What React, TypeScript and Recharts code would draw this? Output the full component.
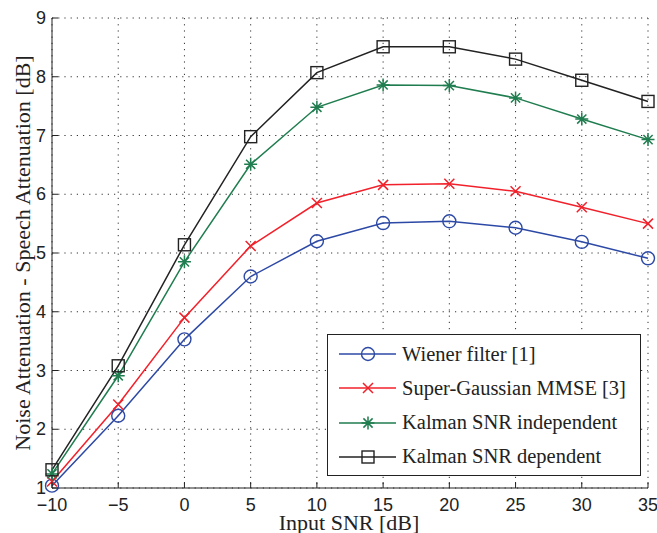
import { CartesianGrid, Line, LineChart, XAxis, YAxis } from "recharts";

const snr = [-10, -5, 0, 5, 10, 15, 20, 25, 30, 35];
const wiener = [1.04, 2.23, 3.53, 4.6, 5.2, 5.51, 5.54, 5.43, 5.19, 4.91];
const superGauss = [1.11, 2.42, 3.9, 5.12, 5.85, 6.16, 6.18, 6.05, 5.78, 5.5];
const kalmanIndep = [1.24, 2.91, 4.85, 6.51, 7.48, 7.86, 7.85, 7.64, 7.28, 6.93];
const kalmanDep = [1.31, 3.08, 5.14, 6.98, 8.07, 8.51, 8.51, 8.3, 7.94, 7.58];
const xTicks = [-10, -5, 0, 5, 10, 15, 20, 25, 30, 35];
const yTicks = [1, 2, 3, 4, 5, 6, 7, 8, 9];

const BLUE = "#2d49a6";
const RED = "#f2202a";
const GREEN = "#1f7d4f";
const BLACK = "#222222";

const data = snr.map((x, i) => ({
  x,
  wiener: wiener[i],
  superGauss: superGauss[i],
  kalmanIndep: kalmanIndep[i],
  kalmanDep: kalmanDep[i],
}));

type Shape = "circle" | "cross" | "star" | "square";

function marker(shape: Shape, cx: number, cy: number, color: string, key?: string) {
  if (shape === "circle")
    return <circle key={key} cx={cx} cy={cy} r={6.5} fill="none" stroke={color} strokeWidth={1.4} />;
  if (shape === "square")
    return <rect key={key} x={cx - 6} y={cy - 6} width={12} height={12} fill="none" stroke={color} strokeWidth={1.4} />;
  if (shape === "cross")
    return (
      <path key={key} d={`M${cx - 5},${cy - 5}L${cx + 5},${cy + 5}M${cx - 5},${cy + 5}L${cx + 5},${cy - 5}`} stroke={color} strokeWidth={1.5} fill="none" />
    );
  const r = 6.5;
  const d = r * 0.707;
  return (
    <path
      key={key}
      d={`M${cx - r},${cy}L${cx + r},${cy}M${cx},${cy - r}L${cx},${cy + r}M${cx - d},${cy - d}L${cx + d},${cy + d}M${cx - d},${cy + d}L${cx + d},${cy - d}`}
      stroke={color}
      strokeWidth={1.5}
      fill="none"
    />
  );
}

const dotOf = (shape: Shape, color: string) => (props: any) => {
  const { cx, cy, index } = props;
  return marker(shape, cx, cy, color, `${shape}-${index}`);
};

const fmt = (v: number) => (v < 0 ? `\u2212${Math.abs(v)}` : `${v}`);

const BottomTick = (props: any) => {
  const { x, y, payload } = props;
  return (
    <g>
      <line x1={x} y1={y} x2={x} y2={y - 6} stroke="#222" />
      <text x={x} y={y + 23} textAnchor="middle" fontFamily="Liberation Sans" fontSize={18} fill="#222">
        {fmt(payload.value)}
      </text>
    </g>
  );
};

const LeftTick = (props: any) => {
  const { x, y, payload } = props;
  return (
    <g>
      <line x1={x} y1={y} x2={x + 6} y2={y} stroke="#222" />
      <text x={x - 6} y={y + 6} textAnchor="end" fontFamily="Liberation Sans" fontSize={18} fill="#222">
        {payload.value}
      </text>
    </g>
  );
};

const TopTick = (props: any) => {
  const { x, y } = props;
  return <line x1={x} y1={y} x2={x} y2={y + 6} stroke="#222" />;
};

const RightTick = (props: any) => {
  const { x, y } = props;
  return <line x1={x} y1={y} x2={x - 6} y2={y} stroke="#222" />;
};

const legendItems: { name: string; color: string; shape: Shape }[] = [
  { name: "Wiener filter [1]", color: BLUE, shape: "circle" },
  { name: "Super-Gaussian MMSE [3]", color: RED, shape: "cross" },
  { name: "Kalman SNR independent", color: GREEN, shape: "star" },
  { name: "Kalman SNR dependent", color: BLACK, shape: "square" },
];

export default function App() {
  return (
    <div style={{ position: "absolute", left: 0, top: 0, width: 657, height: 533, background: "#fff" }}>
      <LineChart width={657} height={533} data={data} margin={{ top: 18, right: 9, bottom: 0, left: 0 }}>
        <CartesianGrid stroke="#333" strokeDasharray="1.2 5" />
        <XAxis
          dataKey="x"
          type="number"
          domain={[-10, 35]}
          ticks={xTicks}
          height={45}
          tickSize={0}
          tickMargin={0}
          tick={<BottomTick />}
          axisLine={{ stroke: "#222" }}
          tickLine={false}
          label={{
            content: () => (
              <text x={349} y={530} textAnchor="middle" fontFamily="Liberation Serif" fontSize={22} fill="#222">
                Input SNR [dB]
              </text>
            ),
          }}
        />
        <XAxis
          xAxisId="top"
          dataKey="x"
          type="number"
          orientation="top"
          domain={[-10, 35]}
          ticks={xTicks}
          height={0}
          tickSize={0}
          tickMargin={0}
          tick={<TopTick />}
          axisLine={{ stroke: "#222" }}
          tickLine={false}
        />
        <YAxis
          type="number"
          domain={[1, 9]}
          ticks={yTicks}
          width={52}
          tickSize={0}
          tickMargin={0}
          tick={<LeftTick />}
          axisLine={{ stroke: "#222" }}
          tickLine={false}
          label={{
            content: () => (
              <text
                x={22}
                y={253}
                transform="rotate(-90, 22, 253)"
                textAnchor="middle"
                dominantBaseline="central"
                fontFamily="Liberation Serif"
                fontSize={22}
                fill="#222"
              >
                Noise Attenuation - Speech Attenuation [dB]
              </text>
            ),
          }}
        />
        <YAxis
          yAxisId="right"
          orientation="right"
          type="number"
          domain={[1, 9]}
          ticks={yTicks}
          width={0}
          tickSize={0}
          tickMargin={0}
          tick={<RightTick />}
          axisLine={{ stroke: "#222" }}
          tickLine={false}
        />
        <Line dataKey="wiener" stroke={BLUE} strokeWidth={1.5} dot={dotOf("circle", BLUE)} isAnimationActive={false} />
        <Line dataKey="superGauss" stroke={RED} strokeWidth={1.5} dot={dotOf("cross", RED)} isAnimationActive={false} />
        <Line dataKey="kalmanIndep" stroke={GREEN} strokeWidth={1.5} dot={dotOf("star", GREEN)} isAnimationActive={false} />
        <Line dataKey="kalmanDep" stroke={BLACK} strokeWidth={1.5} dot={dotOf("square", BLACK)} isAnimationActive={false} />
      </LineChart>
      <div
        style={{
          position: "absolute",
          left: 327,
          top: 334,
          width: 312,
          height: 140,
          border: "1px solid #222",
          background: "#fff",
        }}
      >
        {legendItems.map((item, i) => (
          <div
            key={item.name}
            style={{ position: "absolute", left: 0, top: 2 + i * 34.3, height: 34, display: "flex", alignItems: "center" }}
          >
            <svg width={74} height={34} style={{ display: "block" }}>
              <line x1={11} y1={17} x2={68} y2={17} stroke={item.color} strokeWidth={1.5} />
              {marker(item.shape, 40, 17, item.color)}
            </svg>
            <span style={{ fontFamily: "Liberation Serif", fontSize: 20.5, color: "#222", whiteSpace: "nowrap" }}>
              {item.name}
            </span>
          </div>
        ))}
      </div>
    </div>
  );
}
